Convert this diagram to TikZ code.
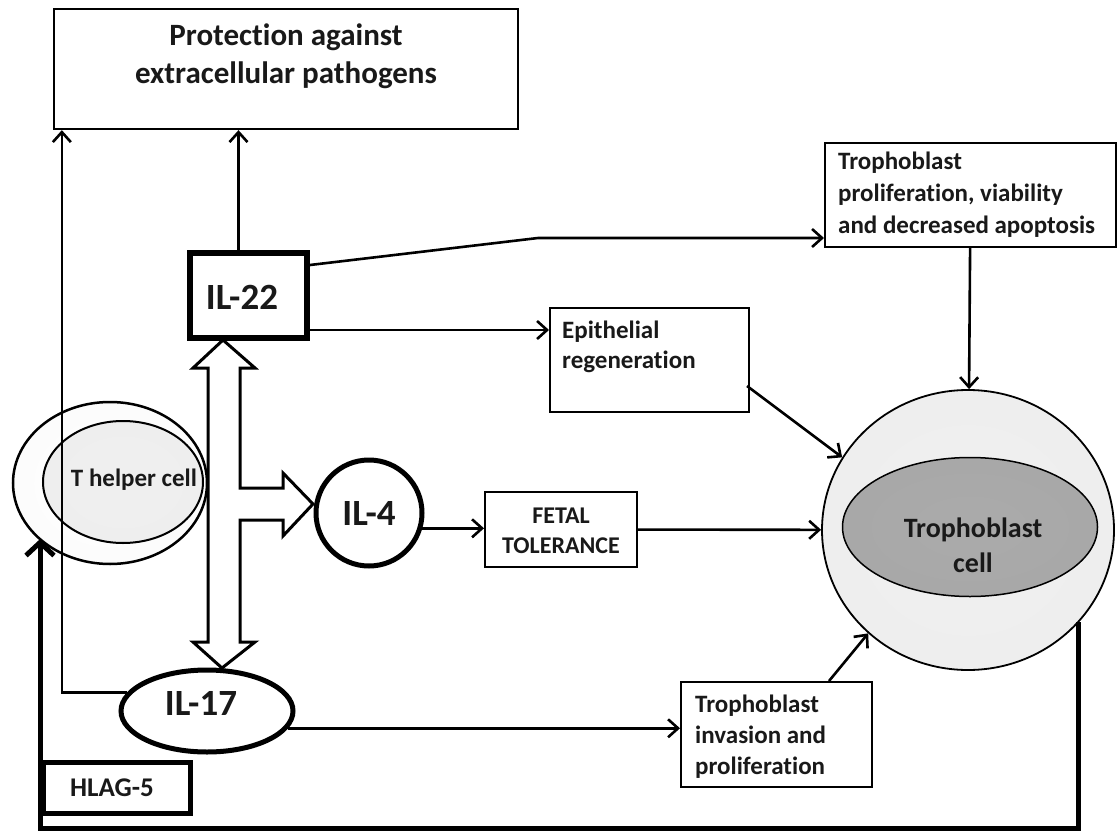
\documentclass[tikz,border=0pt]{standalone}
\usepackage{fontspec}
\setmainfont{Carlito}[Ligatures=NoCommon]
\usetikzlibrary{arrows.meta,shapes.geometric,calc}
\pgfdeclareradialshading{rimwhite}{\pgfpointorigin}{rgb(0bp)=(1,1,1); rgb(40bp)=(0.98,0.98,0.98); rgb(46bp)=(0.9,0.9,0.9); rgb(50bp)=(0.62,0.62,0.62); rgb(100bp)=(0.62,0.62,0.62)}
\pgfdeclareradialshading{rimlight}{\pgfpointorigin}{rgb(0bp)=(0.94,0.94,0.94); rgb(40bp)=(0.93,0.93,0.93); rgb(47bp)=(0.86,0.86,0.86); rgb(50bp)=(0.62,0.62,0.62); rgb(100bp)=(0.62,0.62,0.62)}
\pgfdeclareradialshading{rimdark}{\pgfpointorigin}{rgb(0bp)=(0.67,0.67,0.67); rgb(42bp)=(0.65,0.65,0.65); rgb(50bp)=(0.5,0.5,0.5); rgb(100bp)=(0.5,0.5,0.5)}
\tikzset{
  box/.style={draw, line width=2pt, inner sep=0pt, fill=white},
  heavybox/.style={draw, line width=5.5pt, inner sep=0pt, fill=white},
  txt/.style={inner sep=0pt, text=black!90, font=\bfseries\fontsize{25}{30}\selectfont},
  bigtxt/.style={inner sep=0pt, text=black!90, font=\bfseries\fontsize{37}{44}\selectfont},
  conn/.style={line width=2.6pt, -{Straight Barb[length=10pt,width=18pt]}},
  fbline/.style={line width=5pt, line join=miter, -{Straight Barb[length=13pt,width=28pt]}},
}
\begin{document}
\begin{tikzpicture}[x=1pt,y=-1pt]
\path[use as bounding box, fill=white] (0,0) rectangle (1119,832);

% top box
\node[box, line width=2.3pt, minimum width=464, minimum height=120] (pr) at (286,69) {};
\node[txt, font=\bfseries\fontsize{31}{38}\selectfont, align=center] (prt) at (286,56) {Protection against\\extracellular pathogens};

% T helper cell
\node[ellipse, draw, line width=2.5pt, minimum width=194, minimum height=162, shade, shading=rimwhite] (th) at (110,483) {};
\node[ellipse, draw, line width=2pt, minimum width=160, minimum height=122, shade, shading=rimlight] (thi) at (123,482) {};
\node[txt, font=\bfseries\fontsize{25}{30}\selectfont] (tht) at (134,480) {T helper cell};

% IL-22
\node[heavybox, line width=6pt, minimum width=117, minimum height=85] (il22) at (248.5,295.5) {};
\node[bigtxt] (il22t) at (242,297) {IL-22};

% IL-4
\node[circle, draw, line width=5pt, minimum size=106, fill=white, inner sep=0pt, bigtxt] (il4) at (369,513) {IL-4};

% IL-17
\node[ellipse, draw, line width=5pt, minimum width=172, minimum height=82, fill=white] (il17) at (207,711) {};
\node[bigtxt] (il17t) at (201,703) {IL-17};

% HLAG-5
\node[heavybox, line width=5pt, minimum width=147, minimum height=51] (hl) at (116.5,787.5) {};
\node[txt, font=\bfseries\fontsize{27}{30}\selectfont] (hlt) at (112,788) {HLAG-5};

% Trophoblast proliferation box
\node[box, minimum width=291, minimum height=104] (tp) at (970.5,195) {};
\node[txt, anchor=west, align=left, font=\bfseries\fontsize{25}{32}\selectfont] (tpt) at (838,195) {Trophoblast\\proliferation, viability\\and decreased apoptosis};

% Epithelial regeneration
\node[box, minimum width=199, minimum height=104] (ep) at (649.5,360) {};
\node[txt, anchor=west, align=left] (ept) at (562,347) {Epithelial\\regeneration};

% Fetal tolerance
\node[box, minimum width=152, minimum height=75] (fe) at (561,529.5) {};
\node[txt, align=center, font=\bfseries\fontsize{24}{30}\selectfont] (fet) at (561,531) {FETAL\\TOLERANCE};

% Trophoblast invasion
\node[box, minimum width=191, minimum height=105] (inv) at (776.5,734.5) {};
\node[txt, anchor=west, align=left, font=\bfseries\fontsize{25}{31}\selectfont] (invt) at (695,737) {Trophoblast\\invasion and\\proliferation};

% Trophoblast cell
\node[ellipse, draw, line width=1.8pt, minimum width=292, minimum height=280, shade, shading=rimlight] (tro) at (968,530) {};
\node[ellipse, draw, line width=1.5pt, minimum width=255, minimum height=139, shade, shading=rimdark] (troi) at (970,527) {};
\node[txt, align=center, font=\bfseries\fontsize{28}{35}\selectfont] (trot) at (973,545) {Trophoblast\\cell};

% hollow T-shaped double arrow
\draw[line width=3pt, fill=white, line join=miter]
  (223,340) -- (255,368) -- (240,368) -- (240,488) -- (283,488) -- (283,473)
  -- (313,504) -- (283,536) -- (283,520) -- (240,520) -- (240,642) -- (255,642)
  -- (222,668) -- (193,642) -- (208,642) -- (208,368) -- (193,368) -- cycle;

% connectors
\coordinate (a22) at ($(il22.north)+(-10,0)$);
\draw[conn] (a22) -- (a22 |- pr.south);
\coordinate (a17) at ($(pr.south west)+(9,0)$);
\draw[conn] (il17.167) -| (a17);

\coordinate (s1) at ($(il22.north east)+(0,15)$);
\coordinate (e1) at ($(tp.south west)+(0,-10)$);
\draw[conn] (s1) -- (e1 -| 538,0) -- (e1);

\coordinate (s2) at ($(il22.south east)+(0,-11)$);
\draw[conn] (s2) -- (s2 -| ep.west);

\coordinate (s3) at ($(ep.south east)+(-3,-27)$);
\draw[conn] (s3) -- (tro.150);

\draw[conn] (tp) -- (tro);
\draw[conn] (fe) -- (tro);
\draw[conn] (il4.-16) -- (il4.-16 -| fe.west);
\draw[conn] (il17.-12) -- (il17.-12 -| inv.west);
\coordinate (s4) at ($(inv.north west)+(149,0)$);
\draw[conn] (s4) -- (tro.226);

% feedback to T helper cell
\coordinate (fb0) at (1078,622);
\coordinate (fb1) at (40,828);
\draw[fbline] (fb0) |- (fb1) -- (fb1 |- th.218);
\end{tikzpicture}
\end{document}
